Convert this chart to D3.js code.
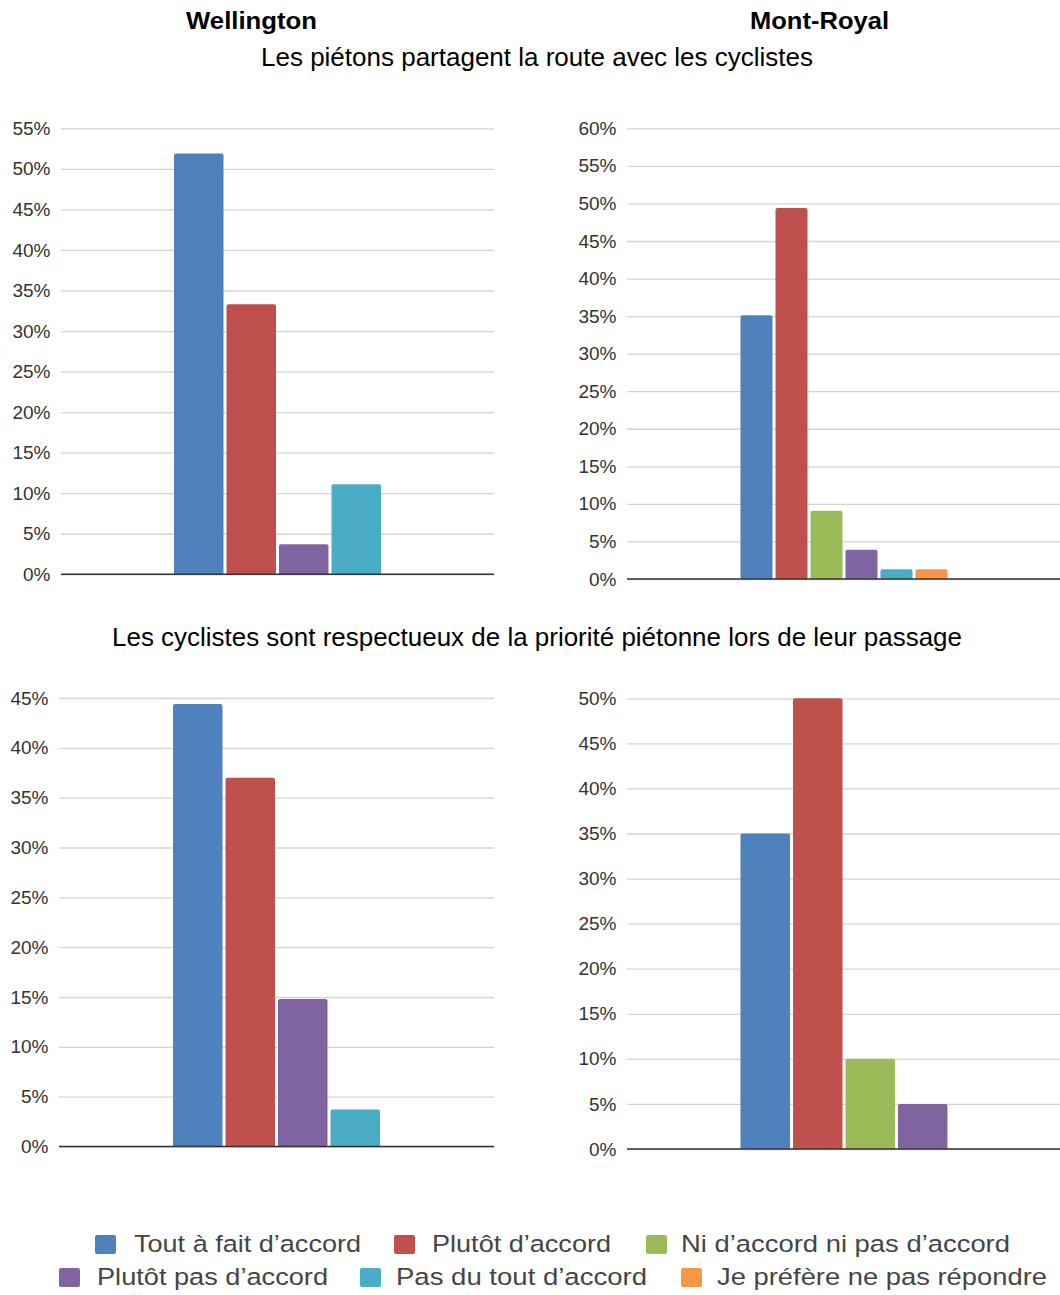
<!DOCTYPE html>
<html>
<head>
<meta charset="utf-8">
<script src="https://cdn.jsdelivr.net/npm/d3@7"></script>
<style>
  body { margin: 0; background: #fff; }
  svg { display: block; }
  text { font-family: "Liberation Sans", Arial, sans-serif; }
</style>
</head>
<body>
<svg id="chart" width="1060" height="1295"></svg>
<script>
// Survey answers and their colours
const answers = [
  "Tout à fait d’accord",
  "Plutôt d’accord",
  "Ni d’accord ni pas d’accord",
  "Plutôt pas d’accord",
  "Pas du tout d’accord",
  "Je préfère ne pas répondre"
];
const answerColors = ["#4f81bd", "#c0504d", "#9bbb59", "#8064a2", "#4bacc6", "#f79646"];

const sites = ["Wellington", "Mont-Royal"];
const questions = [
  "Les piétons partagent la route avec les cyclistes",
  "Les cyclistes sont respectueux de la priorité piétonne lors de leur passage"
];

// Share of respondents (%) per answer, only answers that were given
const wellingtonQ1Answers = [0, 1, 3, 4];
const wellingtonQ1Values  = [51.9, 33.3, 3.7, 11.1];
const montRoyalQ1Answers  = [0, 1, 2, 3, 4, 5];
const montRoyalQ1Values   = [35.1, 49.4, 9.1, 3.9, 1.3, 1.3];
const wellingtonQ2Answers = [0, 1, 3, 4];
const wellingtonQ2Values  = [44.4, 37.0, 14.8, 3.7];
const montRoyalQ2Answers  = [0, 1, 2, 3];
const montRoyalQ2Values   = [35, 50, 10, 5];

// Axis maxima (ticks every 5 %)
const axisMax = [55, 60, 45, 50];
const tickStep = 5;

const svg = d3.select("#chart");

// Panel frames
const panels = [
  { answers: wellingtonQ1Answers, values: wellingtonQ1Values, max: axisMax[0], left: 61,  right: 494,  top: 128.3, bottom: 574.3 },
  { answers: montRoyalQ1Answers,  values: montRoyalQ1Values,  max: axisMax[1], left: 627, right: 1061, top: 128.3, bottom: 579 },
  { answers: wellingtonQ2Answers, values: wellingtonQ2Values, max: axisMax[2], left: 59,  right: 494,  top: 698,   bottom: 1146.5 },
  { answers: montRoyalQ2Answers,  values: montRoyalQ2Values,  max: axisMax[3], left: 627, right: 1061, top: 698.3, bottom: 1149 }
];

// Bar with rounded top corners
function topRoundedBar(x, y, w, h, r) {
  r = Math.min(r, w / 2, h);
  return `M${x},${y + h}V${y + r}Q${x},${y} ${x + r},${y}H${x + w - r}Q${x + w},${y} ${x + w},${y + r}V${y + h}Z`;
}

panels.forEach(p => {
  const g = svg.append("g");
  const y = d3.scaleLinear().domain([0, p.max]).range([p.bottom, p.top]);
  const ticks = d3.range(0, p.max + 0.001, tickStep);

  const axis = d3.axisLeft(y)
    .tickValues(ticks)
    .tickFormat(d => d + "%")
    .tickSize(-(p.right - p.left))
    .tickPadding(10.5);

  const ax = g.append("g").attr("transform", `translate(${p.left},0)`).call(axis);
  ax.select(".domain").remove();
  ax.selectAll(".tick line").attr("stroke", "#d4d4d4").attr("stroke-width", 1.3);
  ax.selectAll(".tick text")
    .attr("fill", "#333")
    .attr("font-size", "19px")
    .attr("font-family", "'Liberation Sans', Arial, sans-serif");

  // Bars, grouped around the plot centre
  const cx = (p.left + p.right) / 2;
  const x = d3.scaleBand().domain(p.answers).range([cx - 105, cx + 105]).paddingInner(0);
  g.selectAll("path.bar")
    .data(p.answers.map((a, i) => ({ a, v: p.values[i] })))
    .join("path")
    .attr("class", "bar")
    .attr("fill", d => answerColors[d.a])
    .attr("d", d => topRoundedBar(x(d.a) + 1.5, y(d.v), x.bandwidth() - 3, y(0) - y(d.v), 2));

  // Baseline
  g.append("line")
    .attr("x1", p.left).attr("x2", p.right)
    .attr("y1", y(0)).attr("y2", y(0))
    .attr("stroke", "#333").attr("stroke-width", 1.5);
});

// Headings
function heading(txt, cx, baseline, size, width, weight) {
  svg.append("text")
    .attr("x", cx - width / 2).attr("y", baseline)
    .attr("font-size", size + "px")
    .attr("font-weight", weight)
    .attr("fill", "#000")
    .attr("textLength", width)
    .attr("lengthAdjust", "spacingAndGlyphs")
    .text(txt);
}
heading(sites[0], 251.5, 29.3, 24.5, 131, "bold");
heading(sites[1], 819.5, 29.3, 24.5, 139, "bold");
heading(questions[0], 537, 65.5, 26, 552, "normal");
heading(questions[1], 537, 645.5, 26, 850, "normal");

// Legend
const legendLayout = [
  { a: 0, sx: 95,  tx: 134, tw: 227, row: 0 },
  { a: 1, sx: 394, tx: 432, tw: 179, row: 0 },
  { a: 2, sx: 646, tx: 681, tw: 329, row: 0 },
  { a: 3, sx: 59,  tx: 97,  tw: 231, row: 1 },
  { a: 4, sx: 360, tx: 396, tw: 251, row: 1 },
  { a: 5, sx: 681, tx: 717, tw: 330, row: 1 }
];
const legendBaselines = [1252, 1285];
const leg = svg.append("g");
legendLayout.forEach(it => {
  const b = legendBaselines[it.row];
  leg.append("rect")
    .attr("x", it.sx).attr("y", b - 17)
    .attr("width", 21).attr("height", 19)
    .attr("rx", 2)
    .attr("fill", answerColors[it.a]);
  leg.append("text")
    .attr("x", it.tx).attr("y", b)
    .attr("font-size", "24.5px")
    .attr("fill", "#454545")
    .attr("textLength", it.tw)
    .attr("lengthAdjust", "spacingAndGlyphs")
    .text(answers[it.a]);
});
</script>
</body>
</html>
